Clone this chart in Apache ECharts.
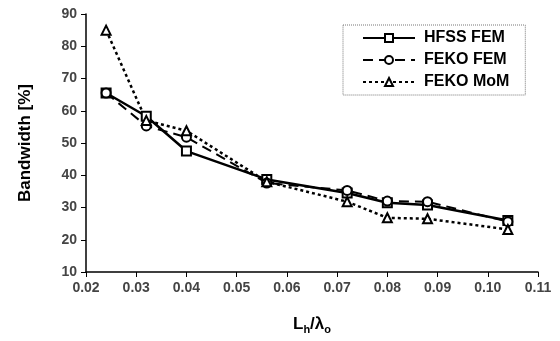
<!DOCTYPE html>
<html>
<head>
<meta charset="utf-8">
<script src="https://cdn.jsdelivr.net/npm/echarts@6/dist/echarts.min.js"></script>
<style>
  html, body { margin: 0; padding: 0; background: #fff; }
  #chart { width: 560px; height: 341px; }
</style>
</head>
<body>
<div id="chart"></div>
<script>
const ratio = [0.024, 0.032, 0.040, 0.056, 0.072, 0.080, 0.088, 0.104]
const hfssFem = [65.5, 58.3, 47.5, 38.7, 34.5, 31.5, 30.8, 26.0]
const fekoFem = [65.5, 55.3, 51.8, 37.6, 35.3, 32.0, 31.8, 25.6]
const fekoMom = [85.0, 57.0, 53.8, 38.0, 31.8, 26.8, 26.5, 23.2]

const pairs = (ys) => ratio.map((x, i) => [x, ys[i]])

const font = 'Liberation Sans, Arial, sans-serif'

const makeSeries = (name, ys, symbol, lineType, width) => ({
    name: name,
    type: 'line',
    data: pairs(ys),
    symbol: symbol,
    symbolSize: 9,
    itemStyle: { color: '#fff', borderColor: '#000', borderWidth: 2 },
    lineStyle: { color: '#000', width: width, type: lineType },
    emphasis: { disabled: true }
})

const chart = echarts.init(document.getElementById('chart'))
chart.setOption({
    animation: false,
    backgroundColor: '#fff',
    grid: { left: 86, right: 22, top: 14, bottom: 69 },
    legend: {
        left: 343,
        top: 25,
        orient: 'vertical',
        itemWidth: 52,
        itemHeight: 10,
        itemGap: 6,
        padding: [5, 16, 5, 19],
        borderColor: '#777',
        borderWidth: 1,
        borderType: 'dotted',
        textStyle: { fontFamily: font, fontWeight: 'bold', fontSize: 16, color: '#000', padding: [0, 0, 0, 4] },
        data: ['HFSS FEM', 'FEKO FEM', 'FEKO MoM']
    },
    xAxis: {
        type: 'value',
        min: 0.02,
        max: 0.11,
        interval: 0.01,
        name: '{b|L}{s|h}{b|/λ}{s|o}',
        nameLocation: 'middle',
        nameGap: 42,
        nameTextStyle: {
            rich: {
                b: { fontFamily: font, fontWeight: 'bold', fontSize: 17, color: '#000' },
                s: { fontFamily: font, fontWeight: 'bold', fontSize: 11, color: '#000', padding: [10, 0, 0, 0] }
            }
        },
        axisLine: { lineStyle: { color: '#000', width: 1.5 } },
        axisTick: { lineStyle: { color: '#000' }, length: 5 },
        splitLine: { show: false },
        axisLabel: {
            fontFamily: font, fontSize: 14, fontWeight: 'bold', color: '#444', margin: 9,
            formatter: v => v.toFixed(2)
        }
    },
    yAxis: {
        type: 'value',
        min: 10,
        max: 90,
        interval: 10,
        name: 'Bandwidth [%]',
        nameLocation: 'middle',
        nameGap: 52,
        nameTextStyle: { fontFamily: font, fontWeight: 'bold', fontSize: 17, color: '#000' },
        axisLine: { show: true, lineStyle: { color: '#000', width: 1.5 } },
        axisTick: { show: true, lineStyle: { color: '#000' }, length: 5 },
        splitLine: { show: false },
        axisLabel: { fontFamily: font, fontSize: 14, fontWeight: 'bold', color: '#444', margin: 9 }
    },
    series: [
        makeSeries('HFSS FEM', hfssFem, 'rect', 'solid', 2.5),
        makeSeries('FEKO FEM', fekoFem, 'circle', [10, 6], 2),
        makeSeries('FEKO MoM', fekoMom, 'triangle', [3, 3], 2.5)
    ]
})
</script>
</body>
</html>
